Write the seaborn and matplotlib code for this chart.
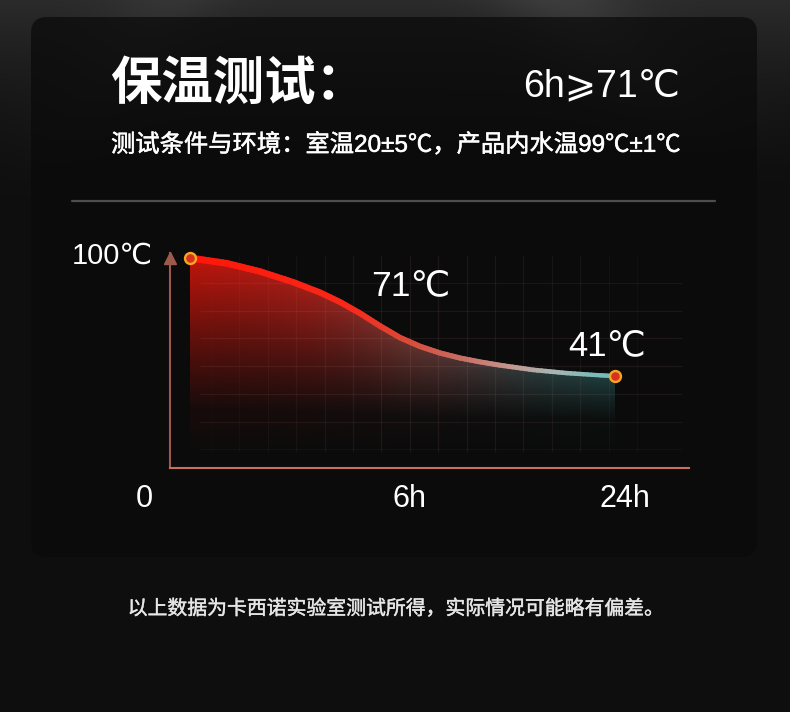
import numpy as np
import pandas as pd
import matplotlib
matplotlib.use("Agg")
import matplotlib.pyplot as plt
import matplotlib.patheffects as pe
import seaborn as sns
from matplotlib.collections import LineCollection
from matplotlib.patches import FancyBboxPatch
from matplotlib.colors import LinearSegmentedColormap
from matplotlib.lines import Line2D

# ---------------- data ----------------
curve_pos = [0.0, 0.0864, 0.1647, 0.2431, 0.3059, 0.3529, 0.4, 0.4471,
             0.4941, 0.5412, 0.5882, 0.6353, 0.6824, 0.7294, 0.8078,
             0.8864, 0.9647, 1.0]
curve_temp = [100.0, 97.35, 93.25, 87.9, 82.75, 78.0, 72.35, 66.0,
              60.2, 55.8, 52.5, 50.0, 48.05, 46.4, 44.05,
              42.45, 41.35, 41.0]
x_tick_labels = ["0", "6h", "24h"]
value_labels = ["100℃", "71℃", "41℃"]
title_text = "保温测试："
headline_text = "6h⩾71℃"
subtitle_text = "测试条件与环境：室温20±5℃，产品内水温99℃±1℃"
footer_text = "以上数据为卡西诺实验室测试所得，实际情况可能略有偏差。"

# ---------------- layout helpers ----------------
W, H = 790, 712
sns.set_theme(style="white")
plt.rcParams["font.family"] = ["Noto Sans CJK SC", "DejaVu Sans"]
NUM_FONT = ["Liberation Sans", "DejaVu Sans", "Noto Sans CJK SC"]
MIX_FONT = ["Liberation Sans", "Noto Sans CJK SC", "DejaVu Sans"]

fig = plt.figure(figsize=(W / 100, H / 100), dpi=100)
fig.patch.set_facecolor("#0f0f0f")

def fx(px):
    return px / W

def fy(py):
    return 1 - py / H

# background
bg = fig.add_axes([0, 0, 1, 1], zorder=-10)
bg.set_xlim(0, W)
bg.set_ylim(H, 0)
bg.axis("off")
yy, xx = np.mgrid[0:H, 0:W]
g = 0.058 + 0.11 * np.clip(1 - yy / 190.0, 0, 1) ** 1.6
streak = np.exp(-((xx - 0.9 * yy - 560) / 70.0) ** 2) * np.clip(1 - yy / 160.0, 0, 1)
streak2 = np.exp(-((xx + 0.7 * yy - 170) / 60.0) ** 2) * np.clip(1 - yy / 200.0, 0, 1)
g = g + 0.07 * streak + 0.04 * streak2
bg.imshow(np.dstack([g, g, g]), extent=[0, W, H, 0], aspect="auto", zorder=0)
panel = FancyBboxPatch((31, 17), 726, 540, boxstyle="round,pad=0,rounding_size=16",
                       facecolor="#0a0a0a", edgecolor="none", alpha=0.72, zorder=1)
bg.add_patch(panel)
bg.add_line(Line2D([72, 715], [201, 201], color="#4d4d4d", lw=1.6, zorder=2))

# texts
fig.text(fx(110), fy(83), title_text, color="white", fontsize=37, fontweight="bold",
         ha="left", va="center")
fig.text(fx(523), fy(86), headline_text, color="white", fontsize=27,
         family=NUM_FONT, ha="left", va="center")
fig.text(fx(111), fy(145), subtitle_text, color="white", fontsize=17.5,
         family=MIX_FONT, ha="left", va="center",
         path_effects=[pe.withStroke(linewidth=0.35, foreground="white")])
fig.text(fx(396), fy(609), footer_text, color="#e6e6e6", fontsize=14.3,
         ha="center", va="center",
         path_effects=[pe.withStroke(linewidth=0.3, foreground="#e6e6e6")])

# ---------------- chart axes ----------------
X0_PX, UNIT_PX = 190, 425.0
T0_PY = 258.0
def u_of(px):
    return (px - X0_PX) / UNIT_PX

def t_of(py):
    return 100 - (py - T0_PY) / 2.0

ax_left, ax_right, ax_bot, ax_top = 170, 689, 468, 253
ax = fig.add_axes([fx(ax_left), fy(ax_bot), (ax_right - ax_left) / W,
                   (ax_bot - ax_top) / H])
ax.set_facecolor("none")
xlim = (u_of(ax_left), u_of(ax_right))
ylim = (t_of(ax_bot), t_of(ax_top))

# faint grid
grid_v_px = 211 + 28.4 * np.arange(16)
grid_h_px = 283 + 27.7 * np.arange(7)
cx, cy = 440, 350
segs, cols = [], []
for p in grid_v_px:
    d = abs(p - cx) / 260.0
    segs.append([(u_of(p), t_of(452)), (u_of(p), t_of(255))])
    cols.append((1.0, 0.72, 0.68, max(0.015, 0.075 * (1 - d ** 2))))
for p in grid_h_px:
    d = abs(p - cy) / 130.0
    segs.append([(u_of(200), t_of(p)), (u_of(682), t_of(p))])
    cols.append((1.0, 0.72, 0.68, max(0.015, 0.075 * (1 - 0.7 * d ** 2))))
ax.add_collection(LineCollection(segs, colors=cols, linewidths=0.9, zorder=3))

# gradient fill under curve
px_arr = np.asarray(curve_pos)
py_arr = np.asarray(curve_temp)
nx, ny = 500, 400
ug = np.linspace(0, 1, nx)
tg = np.linspace(ylim[0], 101, ny)
U, T = np.meshgrid(ug, tg)
top = np.interp(U, px_arr, py_arr)
frac = np.clip((T - 17) / (top - 17), 0, 1)
alpha = frac ** 1.1 * (0.97 - 0.05 * U)
alpha = np.maximum(alpha, 0.06 * np.clip((T - 2) / 15.0, 0, 1))
fill_cmap = LinearSegmentedColormap.from_list(
    "fill", [(0, "#c8160c"), (0.28, "#a8201a"), (0.5, "#6e3631"),
             (0.68, "#463a3a"), (0.85, "#2a4141"), (1, "#214444")])
rgba = fill_cmap(U)
rgba[..., 3] = alpha
im = ax.imshow(rgba, extent=[0, 1, tg[0], tg[-1]], origin="lower",
               aspect="auto", interpolation="bilinear", zorder=2)
poly = ax.fill_between(curve_pos, curve_temp, ylim[0], facecolor="none",
                       edgecolor="none")
im.set_clip_path(poly.get_paths()[0], transform=ax.transData)

# the line itself (seaborn) + colour gradient overlay
df = pd.DataFrame({"pos": curve_pos, "temp": curve_temp})
sns.lineplot(data=df, x="pos", y="temp", ax=ax, color="#e03020", linewidth=2,
             zorder=4)
t = np.linspace(0, 1, 9)[:-1]
xs = np.concatenate([px_arr[i] + (px_arr[i + 1] - px_arr[i]) * t
                     for i in range(len(px_arr) - 1)] + [px_arr[-1:]])
ys = np.concatenate([py_arr[i] + (py_arr[i + 1] - py_arr[i]) * t
                     for i in range(len(py_arr) - 1)] + [py_arr[-1:]])
pts = np.column_stack([xs, ys])
lsegs = np.stack([pts[:-1], pts[1:]], axis=1)
mid = (xs[:-1] + xs[1:]) / 2
line_cmap = LinearSegmentedColormap.from_list(
    "line", [(0, "#ff1608"), (0.38, "#f8281a"), (0.5, "#dc4634"),
             (0.64, "#c86c62"), (0.76, "#c49690"), (0.86, "#a6b6b4"),
             (1, "#6cbcbc")])
widths = 5.0 - 2.0 * mid
lc = LineCollection(lsegs, colors=line_cmap(mid), linewidths=widths,
                    capstyle="round", joinstyle="round", zorder=5)
ax.add_collection(lc)

# end markers
ends = pd.DataFrame({"pos": [curve_pos[0], curve_pos[-1]],
                     "temp": [curve_temp[0], curve_temp[-1]]})
sns.scatterplot(data=ends, x="pos", y="temp", ax=ax, s=62, color="#d8321e",
                edgecolor="#f5a623", linewidth=1.7, zorder=7, clip_on=False)

# value labels
ax.text(u_of(112), t_of(256), value_labels[0], color="white", fontsize=21,
        family=NUM_FONT, ha="center", va="center", clip_on=False)
ax.text(u_of(411), t_of(286), value_labels[1], color="white", fontsize=25.5,
        family=NUM_FONT, ha="center", va="center", clip_on=False)
ax.text(u_of(607), t_of(346), value_labels[2], color="white", fontsize=25,
        family=NUM_FONT, ha="center", va="center", clip_on=False)

# x tick labels
tick_px = [144, 410, 625]
for lab, p in zip(x_tick_labels, tick_px):
    ax.text(u_of(p), t_of(499), lab, color="white", fontsize=22,
            family=NUM_FONT, ha="center", va="center", clip_on=False)

# axes styling
ax.set_xlim(*xlim)
ax.set_ylim(*ylim)
ax.set_xticks([])
ax.set_yticks([])
ax.set_xlabel("")
ax.set_ylabel("")
for s in ["top", "right"]:
    ax.spines[s].set_visible(False)
ax.spines["left"].set_color("#9c5a4c")
ax.spines["left"].set_linewidth(1.5)
ax.spines["bottom"].set_color("#c8705c")
ax.spines["bottom"].set_linewidth(1.5)
ax.plot([xlim[0]], [t_of(258)], marker="^", ms=8, color="#9c5a4c",
        clip_on=False, zorder=6)

fig.savefig("out.png", dpi=100, facecolor=fig.get_facecolor())
